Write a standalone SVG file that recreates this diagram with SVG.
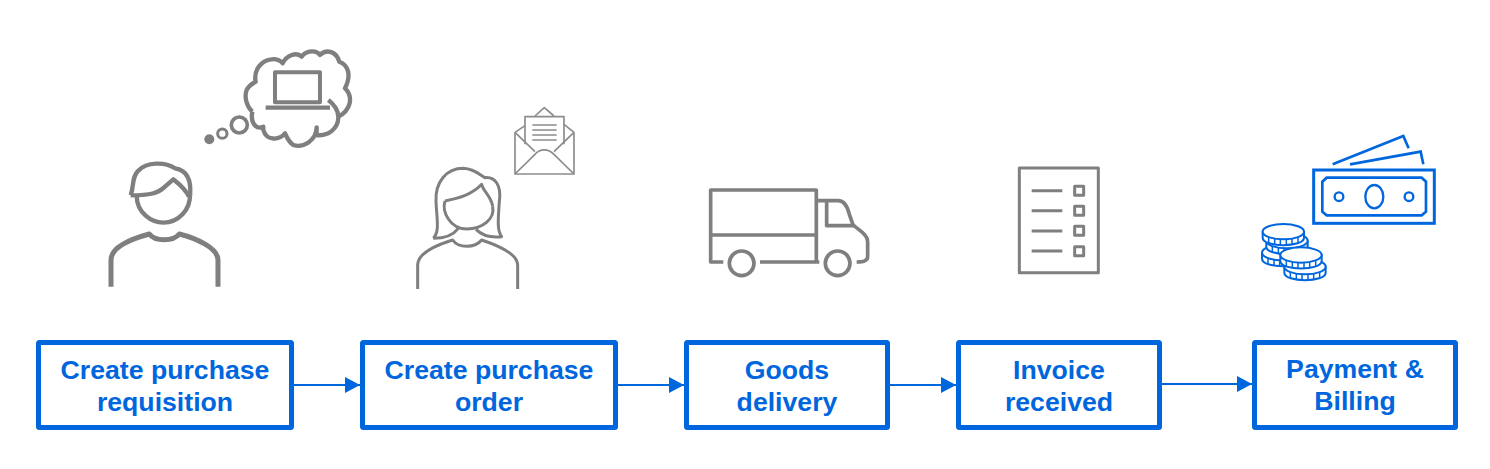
<svg xmlns="http://www.w3.org/2000/svg" xmlns:xlink="http://www.w3.org/1999/xlink" width="1490" height="469" viewBox="0 0 1490 469">
<style>
.box{fill:#fff;stroke:#0066dd;stroke-width:5}
.lbl{font-family:"Liberation Sans",Arial,sans-serif;font-weight:700;font-size:26.67px;fill:#0066dd;text-anchor:middle}
.conn{stroke:#0066dd;stroke-width:2;fill:none;marker-end:url(#arrow)}
.g{fill:none;stroke:#7f7f7f;stroke-linejoin:round}
.b{fill:none;stroke:#0066dd}
</style>
<defs>
<marker id="arrow" markerUnits="userSpaceOnUse" markerWidth="15" markerHeight="16" refX="15" refY="8" orient="auto"><path d="M0 0L15 8L0 16Z" fill="#0066dd"/></marker>
<g id="coin">
<path d="M-62 0V18C-62 48 62 48 62 18V0Z" fill="#fff" stroke="#0066dd" stroke-width="6"/>
<path d="M-44 14V34M-26 18V38M-9 20V40M9 20V40M26 18V38M44 14V34" stroke="#0066dd" stroke-width="4.500" fill="none"/>
<ellipse rx="62" ry="23" fill="#fff" stroke="#0066dd" stroke-width="6"/>
</g>
</defs>
<g id="connectors">
<path class="conn" d="M294 385H360"/>
<path class="conn" d="M618 385H684"/>
<path class="conn" d="M890 385H956"/>
<path class="conn" d="M1162 384H1252"/>
</g>
<g id="node-requisition">
<rect class="box" x="38.500" y="342.500" width="253" height="85" rx="1"/>
<text class="lbl" x="165" y="379">Create purchase</text>
<text class="lbl" x="165" y="411">requisition</text>
<g transform="translate(90 40) scale(.3333)">
<g class="g" stroke-width="13">
<path d="M122 466C132 440 125 410 145 392C170 365 225 365 255 385C290 390 305 420 300 470"/>
<path d="M122 466C180 466 205 460 225 440L250 418C265 430 285 445 297 470"/>
<path d="M140 466C140 520 185 548 220 548C265 548 302 510 300 462"/>
<path d="M63 740V660C63 620 130 595 178 582C195 605 250 605 268 582C320 595 384 625 384 660V740" stroke-width="15"/>
<path d="M487 215C470 200 462 170 470 150C478 135 490 130 497 125C490 90 515 60 545 58C560 55 575 65 578 70C590 45 620 35 635 50C650 30 680 30 690 45C710 25 740 35 748 65C775 75 785 105 765 145C790 170 785 210 742 232"/>
<path d="M715 180C735 195 745 215 745 232C745 265 715 290 680 285V262C680 300 640 325 610 315C595 305 590 290 585 280C570 300 530 305 520 270V260C500 270 480 250 487 215"/>
<rect x="555" y="97" width="135" height="90" stroke-width="12"/>
<path d="M527 203H720" stroke-width="13"/>
<circle cx="448" cy="255" r="24" stroke-width="11"/>
<circle cx="397" cy="281" r="14" stroke-width="9"/>
</g>
<circle cx="358" cy="298" r="15" fill="#7f7f7f"/>
</g>
</g>
<g id="node-order">
<rect class="box" x="362.500" y="342.500" width="253" height="85" rx="1"/>
<text class="lbl" x="489" y="379">Create purchase</text>
<text class="lbl" x="489" y="411">order</text>
<g transform="translate(400 95) scale(.3333)">
<g class="g" stroke-width="9">
<path d="M100 430C120 410 110 370 108 320C105 260 140 220 190 220C225 222 240 240 255 248C285 245 305 270 298 320C295 370 290 405 305 425C280 428 250 425 228 403"/>
<path d="M100 430C130 430 160 420 175 400"/>
<path d="M135 318C175 310 215 300 245 268C250 290 275 305 278 335"/>
<path d="M135 318C125 350 150 402 200 402C250 402 285 370 278 335"/>
<path d="M53 582V510C53 475 110 450 158 435C175 460 225 460 245 435C290 450 353 475 353 510V582"/>
</g>
<g class="g" stroke-width="5" style="stroke:#8c8c8c">
<path d="M345 112V237H522V112M345 112L375 92M492 88L522 112M405 63L433 38L462 63"/>
<path d="M375 148V65H492V148"/>
<path d="M397 90H470M397 105H470M397 120H470M397 135H470"/>
<path d="M345 112L405 170M522 112L462 170M345 237L405 178C420 160 445 160 462 178L522 237"/>
</g>
</g>
</g>
<g id="node-delivery">
<rect class="box" x="686.500" y="342.500" width="201" height="85" rx="1"/>
<text class="lbl" x="787" y="379">Goods</text>
<text class="lbl" x="787" y="411">delivery</text>
<g transform="translate(700 160) scale(.3333)" class="g" stroke-width="11">
<path d="M70 306H32V90H349V306M32 225H349M180 306H358"/>
<circle cx="125" cy="310" r="37"/>
<circle cx="413" cy="310" r="37"/>
<path d="M349 122H415C435 122 442 140 447 160L460 197H380V122"/>
<path d="M460 195C475 210 503 222 503 245V290C503 300 490 306 470 306"/>
</g>
</g>
<g id="node-invoice">
<rect class="box" x="958.500" y="342.500" width="201" height="85" rx="1"/>
<text class="lbl" x="1059" y="379">Invoice</text>
<text class="lbl" x="1059" y="411">received</text>
<g transform="translate(1010 160) scale(.3333)" class="g" stroke-width="9">
<rect x="28" y="24" width="237" height="314"/>
<path d="M65 92H157M65 152H157M65 213H157M65 273H157"/>
<rect x="194" y="79" width="27" height="27"/>
<rect x="194" y="139" width="27" height="27"/>
<rect x="194" y="199" width="27" height="27"/>
<rect x="194" y="260" width="27" height="27"/>
</g>
</g>
<g id="node-payment">
<rect class="box" x="1254.500" y="342.500" width="201" height="85" rx="1"/>
<text class="lbl" x="1355" y="378">Payment &amp;</text>
<text class="lbl" x="1355" y="410">Billing</text>
<g transform="translate(1250 130) scale(.3333)">
<g class="b" stroke-width="9">
<rect x="191" y="120" width="362" height="160"/>
<path d="M217 155L230 143H515L528 155V245L515 256H230L217 245Z" stroke-width="8"/>
<ellipse cx="373" cy="200" rx="27" ry="35" stroke-width="7"/>
<circle cx="267" cy="200" r="13" stroke-width="7"/>
<circle cx="477" cy="200" r="13" stroke-width="7"/>
<path d="M248 103L460 18L476 55M300 103L512 65L520 103" stroke-width="8"/>
</g>
<use xlink:href="#coin" href="#coin" x="98" y="368"/>
<use xlink:href="#coin" href="#coin" x="111" y="332"/>
<use xlink:href="#coin" href="#coin" x="100" y="305"/>
<use xlink:href="#coin" href="#coin" x="165" y="410"/>
<use xlink:href="#coin" href="#coin" x="153" y="375"/>
</g>
</g>
</svg>
